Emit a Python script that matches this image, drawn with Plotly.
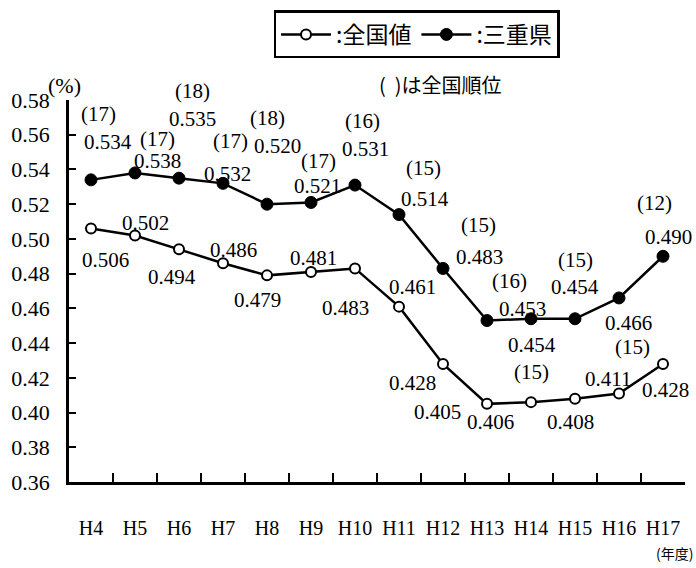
import plotly.graph_objects as go

# ---- data ----
years = ["H4", "H5", "H6", "H7", "H8", "H9", "H10", "H11", "H12", "H13", "H14", "H15", "H16", "H17"]
national = [0.506, 0.502, 0.494, 0.486, 0.479, 0.481, 0.483, 0.461, 0.428, 0.405, 0.406, 0.408, 0.411, 0.428]
mie = [0.534, 0.538, 0.535, 0.532, 0.520, 0.521, 0.531, 0.514, 0.483, 0.453, 0.454, 0.454, 0.466, 0.490]
mie_rank = [17, 17, 18, 17, 18, 17, 16, 15, 15, 16, 15, 15, 15, 12]
y_ticks = [0.36, 0.38, 0.40, 0.42, 0.44, 0.46, 0.48, 0.50, 0.52, 0.54, 0.56, 0.58]

# ---- label offsets in pixels (dx right, dy down) ----
mie_val_off = [(17, -38), (22, -12), (13, -59), (4, -9), (10, -58), (6, -16), (10, -36),
               (26, -16), (36, -11), (35, -12), (1, 26), (0, -32), (9, 25), (5, -19)]
mie_rank_off = [(7, -66), (22, -34), (13, -87), (7, -42), (0, -86), (7, -41), (7, -64),
                (24, -47), (35, -43), (22, -40), (0, 53), (0, -59), (13, 49), (-9, -53)]
nat_off = [(14, 32), (10, -12), (-7, 28), (10, -13), (-10, 25), (2, -14), (-10, 40),
           (13, -20), (-31, 19), (-50, 8), (-41, 20), (-5, 23), (-11, -14), (2, 26)]

W, H = 696, 568
L, R, T, B = 69, 11, 98, 86
PW, PH = W - L - R, H - T - B

SERIF = "Liberation Serif"
SANS = "Noto Sans CJK JP"


def px(xp, yp):
    return (xp - L) / PW, (H - B - yp) / PH


fig = go.Figure()
fig.add_trace(go.Scatter(
    x=years, y=national, mode="lines+markers", name=":全国値",
    line=dict(color="black", width=2.5),
    marker=dict(symbol="circle", size=10, color="white", line=dict(color="black", width=2)),
))
fig.add_trace(go.Scatter(
    x=years, y=mie, mode="lines+markers", name=":三重県",
    line=dict(color="black", width=2.5),
    marker=dict(symbol="circle", size=12, color="black", line=dict(color="black", width=1)),
))

ann = []
lab_font = dict(family=SERIF, size=21, color="black")
for i, yr in enumerate(years):
    dx, dy = mie_val_off[i]
    ann.append(dict(x=yr, y=mie[i], xref="x", yref="y", text=f"{mie[i]:.3f}", showarrow=False,
                    xanchor="center", yanchor="middle", xshift=dx, yshift=-dy, font=lab_font))
    dx, dy = mie_rank_off[i]
    ann.append(dict(x=yr, y=mie[i], xref="x", yref="y", text=f"({mie_rank[i]})", showarrow=False,
                    xanchor="center", yanchor="middle", xshift=dx, yshift=-dy, font=lab_font))
    dx, dy = nat_off[i]
    ann.append(dict(x=yr, y=national[i], xref="x", yref="y", text=f"{national[i]:.3f}", showarrow=False,
                    xanchor="center", yanchor="middle", xshift=dx, yshift=-dy, font=lab_font))

x0, y0 = px(64, 83)
ann.append(dict(x=x0, y=y0, xref="paper", yref="paper", text="(%)", showarrow=False,
                xanchor="center", yanchor="middle", font=dict(family=SERIF, size=22, color="black")))
x0, y0 = px(440, 82)
ann.append(dict(x=x0, y=y0, xref="paper", yref="paper", text="(  )は全国順位", showarrow=False,
                xanchor="center", yanchor="middle", font=dict(family=SANS, size=20, color="black")))
x0, y0 = px(695, 553)
ann.append(dict(x=x0, y=y0, xref="paper", yref="paper", text="(年度)", showarrow=False,
                xanchor="right", yanchor="middle", font=dict(family=SANS, size=14, color="black")))

lx, ly = px(416.5, 8)
fig.update_layout(
    width=W, height=H,
    margin=dict(l=L, r=R, t=T, b=B),
    paper_bgcolor="white", plot_bgcolor="white",
    showlegend=True,
    legend=dict(orientation="h", x=lx, y=ly, xanchor="center", yanchor="top",
                bordercolor="black", borderwidth=2.5, bgcolor="white",
                font=dict(family=SANS, size=23, color="black"), itemwidth=50),
    annotations=ann,
    xaxis=dict(type="category", range=[-0.5, 13.5], showline=True, linecolor="black", linewidth=2.5,
               ticks="inside", tickson="boundaries", ticklen=9, tickwidth=2, tickcolor="black",
               showgrid=False, zeroline=False, ticklabelstandoff=26, tickangle=0,
               tickfont=dict(family=SERIF, size=20, color="black")),
    yaxis=dict(range=[0.36, 0.58], tickvals=y_ticks, tickformat=".2f", showline=True,
               linecolor="black", linewidth=2.5, ticks="inside", ticklen=7, tickwidth=2,
               tickcolor="black", showgrid=False, zeroline=False, ticklabelstandoff=12,
               tickfont=dict(family=SERIF, size=22, color="black")),
)

fig.write_html("out.html", config={"displayModeBar": False},
               post_script="document.body.style.margin='0';document.body.style.overflow='hidden';")
